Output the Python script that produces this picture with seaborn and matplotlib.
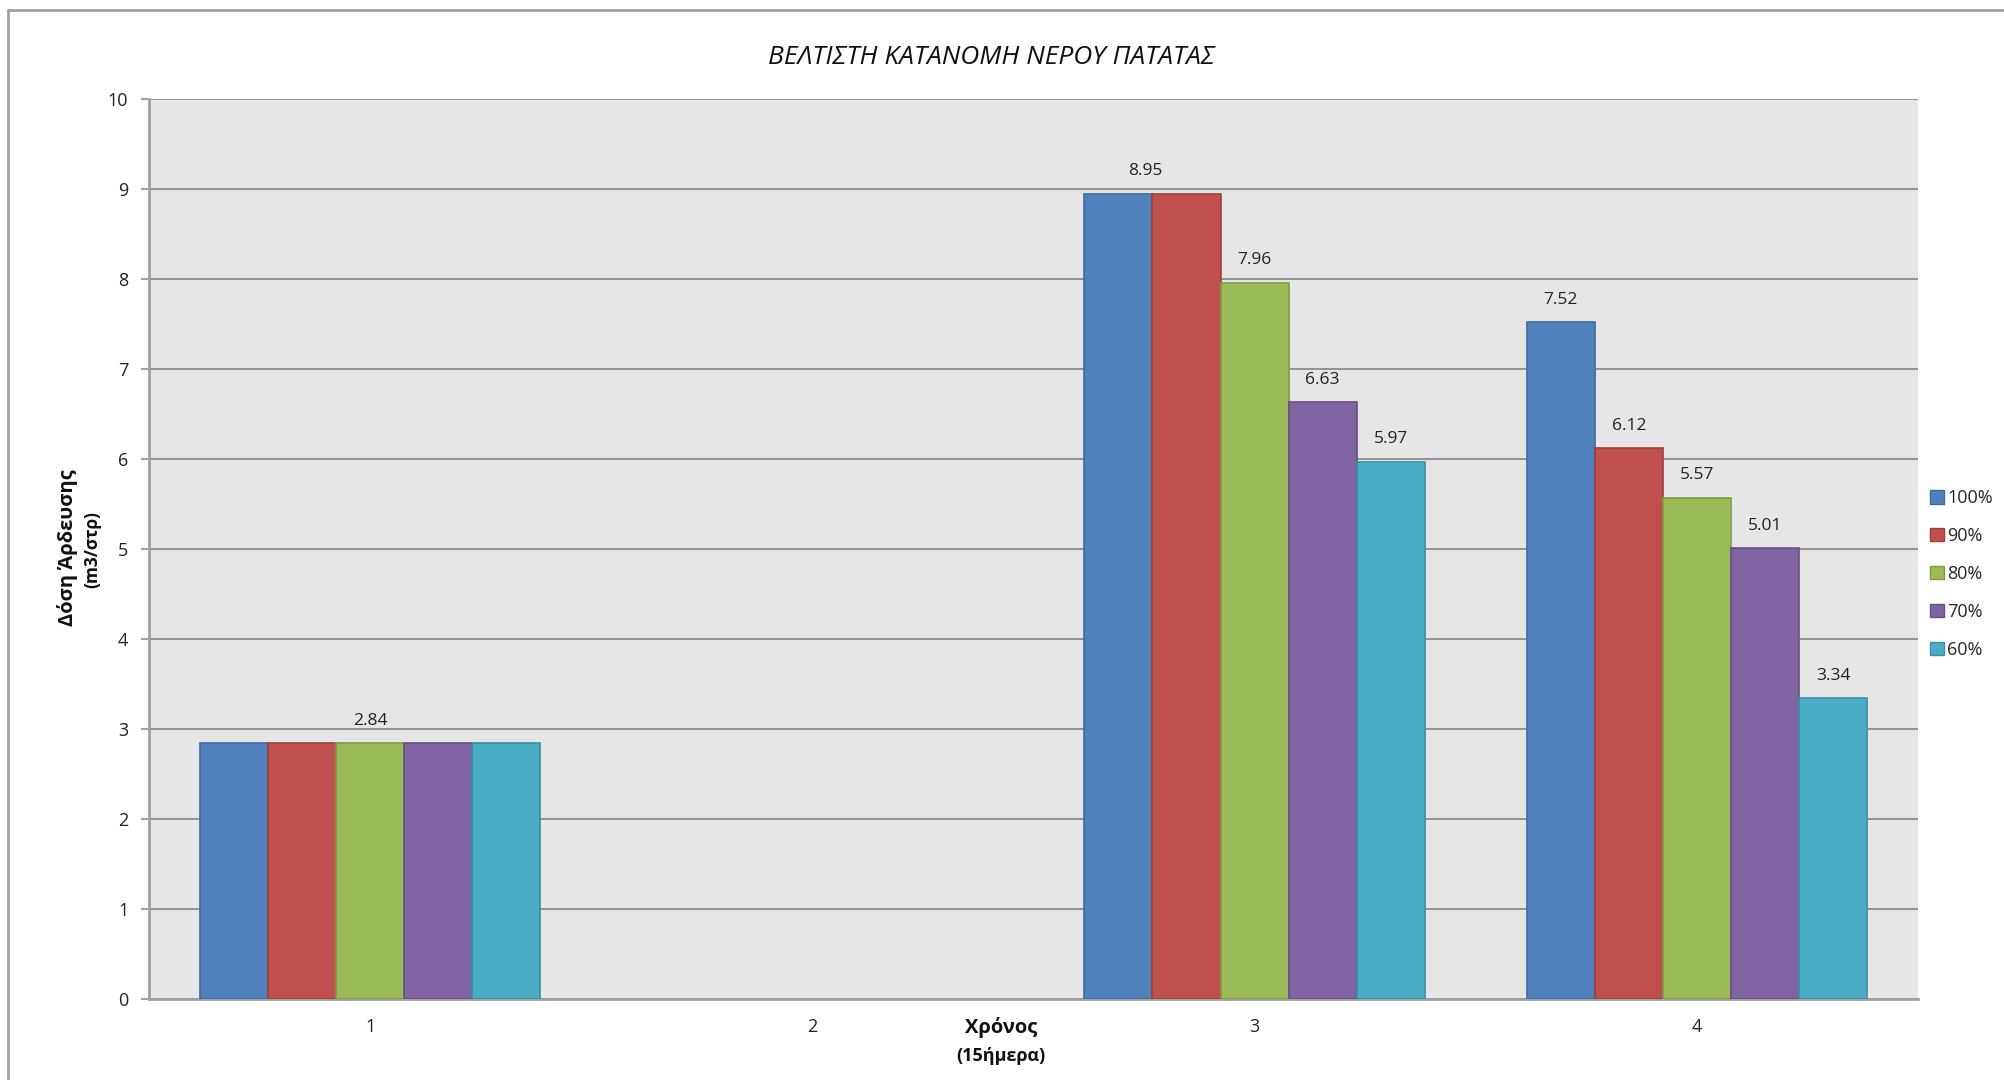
import matplotlib
matplotlib.use("Agg")
import matplotlib.pyplot as plt
from matplotlib.lines import Line2D
import seaborn as sns
import pandas as pd

# Irrigation periods (15-day intervals) and water availability levels
periods = ["1", "2", "3", "4"]
levels = ["100%", "90%", "80%", "70%", "60%"]

dose_100 = [2.84, 0.0, 8.95, 7.52]
dose_90 = [2.84, 0.0, 8.95, 6.12]
dose_80 = [2.84, 0.0, 7.96, 5.57]
dose_70 = [2.84, 0.0, 6.63, 5.01]
dose_60 = [2.84, 0.0, 5.97, 3.34]

# Which bars carry a value label (per level, per period)
show_label = {
    "100%": [False, False, True, True],
    "90%": [False, False, False, True],
    "80%": [True, False, True, True],
    "70%": [False, False, True, True],
    "60%": [False, False, True, True],
}

colors = ["#4F81BD", "#C0504D", "#9BBB59", "#8064A2", "#4BACC6"]
edges = ["#3F6B9E", "#9E3E3B", "#7F9B47", "#664F85", "#3A8FA6"]

series = [dose_100, dose_90, dose_80, dose_70, dose_60]
rows = []
for lvl, vals in zip(levels, series):
    for p, v in zip(periods, vals):
        rows.append({"period": p, "level": lvl, "dose": v})
df = pd.DataFrame(rows)

sns.set_theme(style="white")
plt.rcParams["font.family"] = ["Open Sans", "DejaVu Sans"]

fig = plt.figure(figsize=(20.04, 10.80), dpi=100)
ax = fig.add_axes([149 / 2004, 1 - 999 / 1080, (1918 - 149) / 2004, (999 - 99) / 1080])
ax.set_facecolor("#E6E6E6")

sns.barplot(data=df, x="period", y="dose", hue="level", order=periods,
            hue_order=levels, palette=colors, width=0.77, gap=0,
            saturation=1, errorbar=None, ax=ax, legend=True, zorder=3)

for cont, ec, vals in zip(ax.containers, edges, series):
    for bar, v in zip(cont, vals):
        bar.set_edgecolor(ec)
        bar.set_linewidth(1.2 if v > 0 else 0)

# Value labels
for lvl, cont, vals in zip(levels, ax.containers, series):
    for i, (bar, v) in enumerate(zip(cont, vals)):
        if not show_label[lvl][i]:
            continue
        x = bar.get_x() + bar.get_width() / 2
        if lvl == "100%" and vals[i] == dose_90[i]:
            x = bar.get_x() + bar.get_width() * 0.9
        ax.annotate(f"{v:.2f}", (x, v), xytext=(0, 16), textcoords="offset points",
                    ha="center", va="center", fontsize=12.5, color="#222222")

ax.set_ylim(0, 10)
ax.set_xlim(-0.5, 3.5)
ax.set_yticks(range(0, 11))
ax.yaxis.grid(True, color="#8C8C8C", linewidth=1.3, zorder=0)
ax.set_axisbelow(True)
ax.set_xlabel("")
ax.set_ylabel("")
for side in ["top", "right"]:
    ax.spines[side].set_visible(False)
for side in ["left", "bottom"]:
    ax.spines[side].set_color("#A0A0A0")
    ax.spines[side].set_linewidth(2)
ax.tick_params(axis="y", left=True, length=6, width=1.5, color="#A0A0A0",
               pad=9, labelsize=13, labelcolor="#222222")
ax.tick_params(axis="x", bottom=False, pad=8, labelsize=13, labelcolor="#222222")

# Legend to the right of the plot area
handles, labels = ax.get_legend_handles_labels()
ax.get_legend().remove()
leg = fig.legend(handles, labels, loc="center left",
                 bbox_to_anchor=(1921 / 2004, 1 - 574 / 1080), frameon=False,
                 fontsize=13, handlelength=0.75, handleheight=0.75,
                 handletextpad=0.2, labelspacing=1.1, borderpad=0)
for h, ec in zip(leg.legend_handles, edges):
    h.set_edgecolor(ec)

# Titles and axis labels
fig.text(991 / 2004, 1 - 57 / 1080, "ΒΕΛΤΙΣΤΗ ΚΑΤΑΝΟΜΗ ΝΕΡΟΥ ΠΑΤΑΤΑΣ",
         ha="center", va="center", fontsize=19, style="italic", color="#111111")
fig.text(68 / 2004, 1 - 548 / 1080, "Δόση Άρδευσης", rotation=90,
         ha="center", va="center", fontsize=14.5, fontweight="bold", color="#111111")
fig.text(92 / 2004, 1 - 550 / 1080, "(m3/στρ)", rotation=90,
         ha="center", va="center", fontsize=12.5, fontweight="bold", color="#111111")
fig.text(1001 / 2004, 1 - 1028 / 1080, "Χρόνος",
         ha="center", va="center", fontsize=14.5, fontweight="bold", color="#111111")
fig.text(1001 / 2004, 1 - 1056 / 1080, "(15ήμερα)",
         ha="center", va="center", fontsize=13, fontweight="bold", color="#111111")

# Outer chart frame
fig.add_artist(Line2D([8 / 2004, 8 / 2004], [0, 1 - 10 / 1080],
                      transform=fig.transFigure, color="#A0A0A0", linewidth=2))
fig.add_artist(Line2D([8 / 2004, 1], [1 - 10 / 1080, 1 - 10 / 1080],
                      transform=fig.transFigure, color="#A0A0A0", linewidth=2))

fig.savefig("out.png", dpi=100, facecolor="white")
